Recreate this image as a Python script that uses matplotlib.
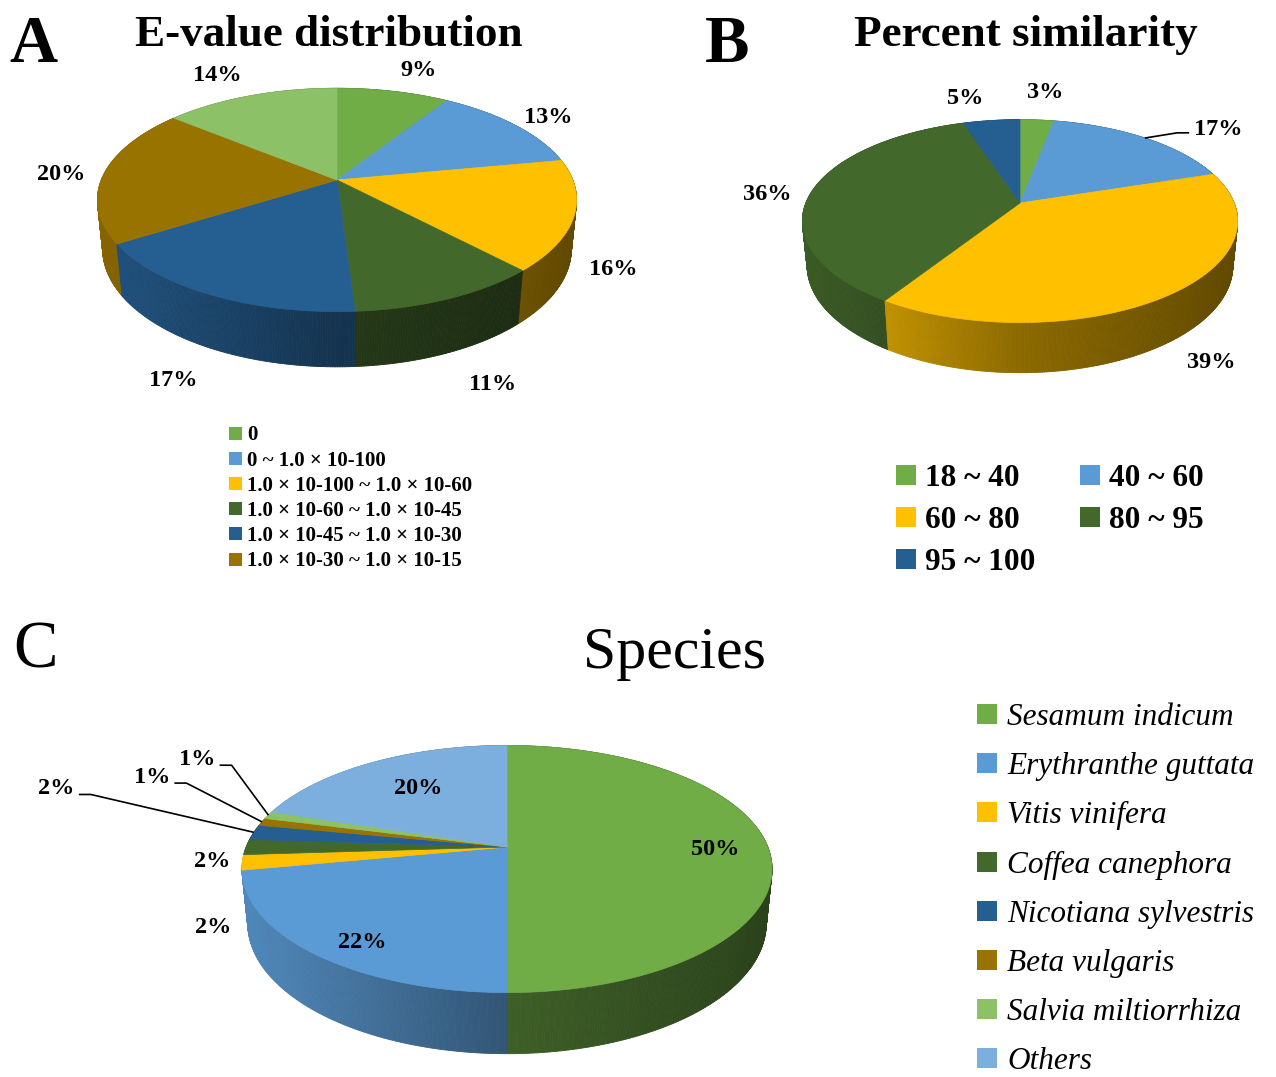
import numpy as np
import matplotlib
matplotlib.use("Agg")
import matplotlib.pyplot as plt
from matplotlib.collections import PolyCollection
from matplotlib.patches import Polygon, Rectangle
from matplotlib.colors import to_rgb

# ---------------- data ----------------
# A: E-value distribution (the legend lists the first six ranges)
EVALUE_LEGEND = ["0", "0 ~ 1.0 × 10-100", "1.0 × 10-100 ~ 1.0 × 10-60",
                 "1.0 × 10-60 ~ 1.0 × 10-45", "1.0 × 10-45 ~ 1.0 × 10-30",
                 "1.0 × 10-30 ~ 1.0 × 10-15"]
EVALUE_SHARES = [9, 13, 16, 11, 17, 20, 14]
EVALUE_COLORS = ["#70AD47", "#5B9BD5", "#FFC000", "#43682B", "#255E91",
                 "#997300", "#8CC168"]

# B: percent similarity
SIM_BINS = ["18 ~ 40", "40 ~ 60", "60 ~ 80", "80 ~ 95", "95 ~ 100"]
SIM_SHARES = [3, 17, 39, 36, 5]
SIM_COLORS = ["#70AD47", "#5B9BD5", "#FFC000", "#43682B", "#255E91"]

# C: species
SPECIES = ["Sesamum indicum", "Erythranthe guttata", "Vitis vinifera",
           "Coffea canephora", "Nicotiana sylvestris", "Beta vulgaris",
           "Salvia miltiorrhiza", "Others"]
SPECIES_SHARES = [50, 22, 2, 2, 2, 1, 1, 20]
SPECIES_COLORS = ["#70AD47", "#5B9BD5", "#FFC000", "#43682B", "#255E91",
                  "#997300", "#8CC168", "#7CAFDD"]

# ---------------- 3-D pie geometry ----------------
ELEV = np.radians(27.3)      # camera elevation
DIST = 4.98                  # camera distance (in pie radii)
THICK = 0.236                # pie thickness (in pie radii)
FOCAL_PER_PX = 1174.0 / 240.0

W, H = 1276, 1077
FONT = "Liberation Serif"

fig = plt.figure(figsize=(W / 100, H / 100), dpi=100)
ax = fig.add_axes([0, 0, 1, 1])
ax.set_xlim(0, W)
ax.set_ylim(H, 0)
ax.axis("off")
renderer = fig.canvas.get_renderer()


def make_proj(cx, cy, half_w):
    f = FOCAL_PER_PX * half_w
    s, c = np.sin(ELEV), np.cos(ELEV)

    def proj(x, y, z):
        v = y * s + z * c
        w = DIST + y * c - z * s
        return cx + f * x / w, cy - f * v / w
    return proj


def shade(base, xn):
    k = 0.55 - 0.33 * xn if xn < 0 else 0.55 - 0.17 * xn
    return tuple(np.clip(np.array(base) * k, 0, 1))


def text_half_width(t):
    bb = t.get_window_extent(renderer=renderer)
    return bb.width / 2


def draw_pie3d(shares, colors, cx, cy, half_w, label_r, inside, nudges,
               leaders, fontsize=17.5):
    proj = make_proj(cx, cy, half_w)
    total = float(sum(shares))
    bounds = np.concatenate([[0], np.cumsum(shares)]) / total * 2 * np.pi

    # side wall, built from thin quads and painted back to front
    quads, cols, depth = [], [], []
    for i in range(len(shares)):
        a0, a1 = bounds[i], bounds[i + 1]
        n = max(2, int(np.ceil((a1 - a0) / np.radians(0.5))))
        th = np.linspace(a0, a1, n + 1)
        x, y = np.sin(th), np.cos(th)
        xt, yt = proj(x, y, 0.0)
        xb, yb = proj(x, y, -THICK)
        base = to_rgb(colors[i])
        for k in range(n):
            quads.append([(xt[k], yt[k]), (xt[k + 1], yt[k + 1]),
                          (xb[k + 1], yb[k + 1]), (xb[k], yb[k])])
            xn = ((xt[k] + xt[k + 1]) / 2 - cx) / half_w
            cols.append(shade(base, xn))
            depth.append((y[k] + y[k + 1]) / 2)
    order = np.argsort(depth)[::-1]
    pc = PolyCollection([quads[j] for j in order],
                        facecolors=[cols[j] for j in order],
                        edgecolors=[cols[j] for j in order],
                        linewidths=0.6, zorder=2)
    ax.add_collection(pc)

    # top faces
    for i in range(len(shares)):
        a0, a1 = bounds[i], bounds[i + 1]
        n = max(2, int(np.ceil((a1 - a0) / np.radians(0.5))))
        th = np.linspace(a0, a1, n + 1)
        xt, yt = proj(np.sin(th), np.cos(th), 0.0)
        pts = [(cx, cy)] + list(zip(xt, yt))
        ax.add_patch(Polygon(pts, closed=True, facecolor=colors[i],
                             edgecolor=colors[i], linewidth=0.5, zorder=3))

    # percentage labels
    for i, v in enumerate(shares):
        mid = (bounds[i] + bounds[i + 1]) / 2
        if inside[i]:
            lx, ly = proj(label_r[1] * np.sin(mid), label_r[1] * np.cos(mid), 0.0)
        else:
            z = -THICK if np.cos(mid) < -0.05 else 0.0
            lx, ly = proj(label_r[0] * np.sin(mid), label_r[0] * np.cos(mid), z)
        lx += nudges[i][0]
        ly += nudges[i][1]
        t = ax.text(lx, ly, f"{v}%", ha="center", va="center_baseline",
                    fontsize=fontsize, fontweight="bold", family=FONT,
                    zorder=5)
        if leaders[i]:
            ex, ey = proj(np.sin(mid), np.cos(mid), 0.0)
            hw = text_half_width(t)
            if ex < lx:
                sx, sy = lx - hw - 5, ly + 6
                kx = sx - 12
            else:
                sx, sy = lx + hw + 4, ly + 8
                kx = sx + 12
            ax.plot([sx, kx, ex], [sy, sy, ey], color="black", lw=1.2,
                    solid_capstyle="butt", zorder=4)


# ---------------- panel A ----------------
ax.text(33, 62, "A", fontsize=48, fontweight="bold", family=FONT,
        ha="center", va="baseline")
ax.text(329, 46, "E-value distribution", fontsize=32.5, fontweight="bold",
        family=FONT, ha="center", va="baseline")
draw_pie3d(EVALUE_SHARES, EVALUE_COLORS, 337, 180, 240,
           label_r=(1.2, 0.8), inside=[False] * 7,
           nudges=[(16, -9), (2, 0), (-5, -7), (19, -2), (-9, -1), (3, 0),
                   (-19, -9)],
           leaders=[False] * 7)
for i, (lab, col) in enumerate(zip(EVALUE_LEGEND, EVALUE_COLORS)):
    y = 433 + 25.2 * i
    ax.add_patch(Rectangle((229, y - 6.5), 13, 13, facecolor=col,
                           edgecolor="none", zorder=3))
    ax.text(247, y, lab, fontsize=15, fontweight="bold", family=FONT,
            ha="left", va="center_baseline")

# ---------------- panel B ----------------
ax.text(727, 62, "B", fontsize=48, fontweight="bold", family=FONT,
        ha="center", va="baseline")
ax.text(1026, 46, "Percent similarity", fontsize=32.5, fontweight="bold",
        family=FONT, ha="center", va="baseline")
draw_pie3d(SIM_SHARES, SIM_COLORS, 1020, 203, 218,
           label_r=(1.2, 0.8), inside=[False] * 5,
           nudges=[(5, -16), (52, 0), (7, -5), (-4, 3), (-22, -11)],
           leaders=[False, True, False, False, False])
for i, (lab, col) in enumerate(zip(SIM_BINS, SIM_COLORS)):
    row, colno = divmod(i, 2)
    x = 896 + 184 * colno
    y = 475 + 42 * row
    ax.add_patch(Rectangle((x, y - 10), 20, 20, facecolor=col,
                           edgecolor="none", zorder=3))
    ax.text(x + 29, y, lab, fontsize=22.5, fontweight="bold", family=FONT,
            ha="left", va="center_baseline")

# ---------------- panel C ----------------
ax.text(36, 668, "C", fontsize=48, family=FONT, ha="center", va="baseline")
ax.text(674, 668, "Species", fontsize=43, family=FONT, ha="center",
        va="baseline")
draw_pie3d(SPECIES_SHARES, SPECIES_COLORS, 507, 847, 265.5,
           label_r=(1.2, 0.8),
           inside=[True, True, False, False, False, False, False, True],
           nudges=[(0, 0), (5, 10), (18, 5), (18, 12), (-148, -43),
                   (-63, -42), (-26, -52), (21, 8)],
           leaders=[False, False, False, False, True, True, True, False])
for i, (lab, col) in enumerate(zip(SPECIES, SPECIES_COLORS)):
    y = 714 + 49.2 * i
    ax.add_patch(Rectangle((977, y - 10), 20, 20, facecolor=col,
                           edgecolor="none", zorder=3))
    ax.text(1007, y, lab, fontsize=22.5, fontstyle="italic", family=FONT,
            ha="left", va="center_baseline")

fig.savefig("out.png", dpi=100)
